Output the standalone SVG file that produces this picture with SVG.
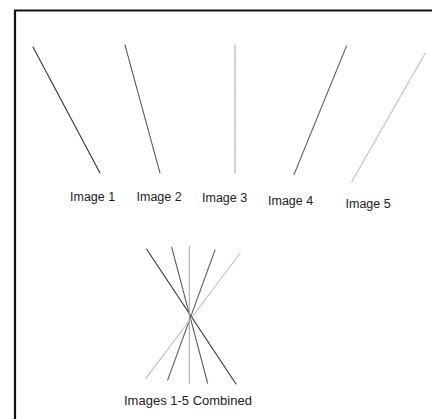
<svg xmlns="http://www.w3.org/2000/svg" width="432" height="419" viewBox="0 0 432 419">
<style>
.lbl{font-family:"Liberation Sans",Arial,sans-serif;font-size:12.5px;fill:#222}
.ln{stroke-width:1.1;fill:none;stroke-linecap:round}
.l1{stroke:#333}
.l2{stroke:#555;stroke-dasharray:2 0.6}
.l3{stroke:#aaa;stroke-dasharray:1.5 0.7}
.l4{stroke:#666}
.l5{stroke:#bbb;stroke-dasharray:1.5 1}
</style>
<rect width="432" height="419" fill="#fff"/>
<path d="M15,419 V10.5 H432" fill="none" stroke="#111" stroke-width="2.2"/>
<g id="connectors">
<line id="img1" class="ln l1" x1="33" y1="47" x2="100" y2="173"/>
<line id="img2" class="ln l2" x1="125" y1="45" x2="160" y2="173"/>
<line id="img3" class="ln l3" x1="235" y1="45" x2="235" y2="173"/>
<line id="img4" class="ln l4" x1="346.5" y1="46" x2="294" y2="174.5"/>
<line id="img5" class="ln l5" x1="425" y1="53.5" x2="351.7" y2="181.7"/>
<line class="ln l1" x1="146.7" y1="249.3" x2="236" y2="384"/>
<line class="ln l2" x1="171.7" y1="247.3" x2="207.7" y2="383.3"/>
<line class="ln l3" x1="189.3" y1="246" x2="189.3" y2="383.3"/>
<line class="ln l4" x1="215" y1="250" x2="167.7" y2="380"/>
<line class="ln l5" x1="240" y1="253.3" x2="146" y2="378.3"/>
</g>
<g id="label1"><text class="lbl" x="70" y="201">Image 1</text></g>
<g id="label2"><text class="lbl" x="136.5" y="201">Image 2</text></g>
<g id="label3"><text class="lbl" x="202" y="202">Image 3</text></g>
<g id="label4"><text class="lbl" x="268" y="204.5">Image 4</text></g>
<g id="label5"><text class="lbl" x="345.5" y="207.5">Image 5</text></g>
<g id="label-combined"><text class="lbl" x="124" y="405" style="font-size:13px">Images 1-5 Combined</text></g>
</svg>
